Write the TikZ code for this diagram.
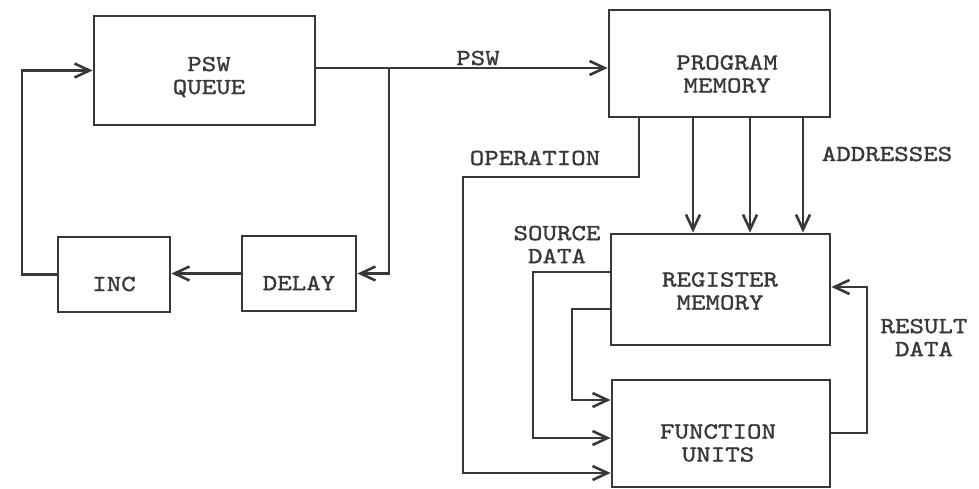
\documentclass[tikz,border=0pt]{standalone}
\usepackage{fontspec}
\setmonofont{lmmono10-regular.otf}[FakeStretch=1.2,FakeBold=1.2]
\usetikzlibrary{arrows.meta}
\definecolor{ink}{HTML}{383838}
\begin{document}
\begin{tikzpicture}[x=1pt,y=-1pt,
  ink/.style={draw=ink,line width=2.8pt},
  blk/.style={ink,rectangle,inner sep=0pt,fill=white},
  txt/.style={text=ink,align=center,inner sep=0pt,font=\ttfamily\fontsize{23}{23}\selectfont},
  arr/.style={ink,-{Straight Barb[length=15pt,width=14pt,line width=2.6pt]}}]
\useasboundingbox (0,0) rectangle (979,489);
% boxes
\node[blk,minimum width=221pt,minimum height=109pt] (queue) at (204.5,70.5) {};
\node[blk,minimum width=112pt,minimum height=75pt] (inc) at (114,274.5) {};
\node[blk,minimum width=114pt,minimum height=75pt] (delay) at (299,273.5) {};
\node[blk,minimum width=221pt,minimum height=107pt] (pm) at (719.5,63.5) {};
\node[blk,minimum width=219pt,minimum height=111pt] (rm) at (720.5,289.5) {};
\node[blk,minimum width=218pt,minimum height=107pt] (fu) at (721,433.5) {};
% box texts
\node[txt] (queueT) at (209,77) {PSW\\QUEUE};
\node[txt] (incT) at (114,284) {INC};
\node[txt] (delayT) at (299,283) {DELAY};
\node[txt] (pmT) at (727,74) {PROGRAM\\MEMORY};
\node[txt] (rmT) at (720,291) {REGISTER\\MEMORY};
\node[txt] (fuT) at (718,443) {FUNCTION\\UNITS};
% labels
\node[txt] (pswL) at (478,58) {PSW};
\node[txt] (opL) at (535,158) {OPERATION};
\node[txt] (adL) at (887,154) {ADDRESSES};
\node[txt] (srcL) at (557,244.5) {SOURCE\\DATA};
\node[txt] (resL) at (924,337.5) {RESULT\\DATA};
% helper coordinates
\coordinate (j) at (389,68);
\coordinate (lft) at (22,0);
\coordinate (op1) at (639,177);
\coordinate (op2) at (463,177);
\coordinate (a1) at (693,0);
\coordinate (a2) at (750,0);
\coordinate (a3) at (803,0);
\coordinate (s1) at (533,272);
\coordinate (s2) at (572,309);
\coordinate (f1) at (0,400);
\coordinate (f2) at (0,438);
\coordinate (f3) at (0,473);
\coordinate (r1) at (867,433);
\coordinate (r2) at (867,287);
% connectors
\draw[arr] (j -| queue.east) -- (j -| pm.west);
\draw[arr] (j) |- (delay.east);
\draw[arr] (delay.west) -- (delay.west -| inc.east);
\draw[arr] (inc.west) -- (inc.west -| lft) |- (queue.west);
\draw[arr] (op1 |- pm.south) -- (op1) -- (op2) |- (f3 -| fu.west);
\draw[arr] (a1 |- pm.south) -- (a1 |- rm.north);
\draw[arr] (a2 |- pm.south) -- (a2 |- rm.north);
\draw[arr] (a3 |- pm.south) -- (a3 |- rm.north);
\draw[arr] (s1 -| rm.west) -- (s1) |- (f2 -| fu.west);
\draw[arr] (s2 -| rm.west) -- (s2) |- (f1 -| fu.west);
\draw[arr] (r1 -| fu.east) -- (r1) -- (r2) -- (r2 -| rm.east);
\end{tikzpicture}
\end{document}
